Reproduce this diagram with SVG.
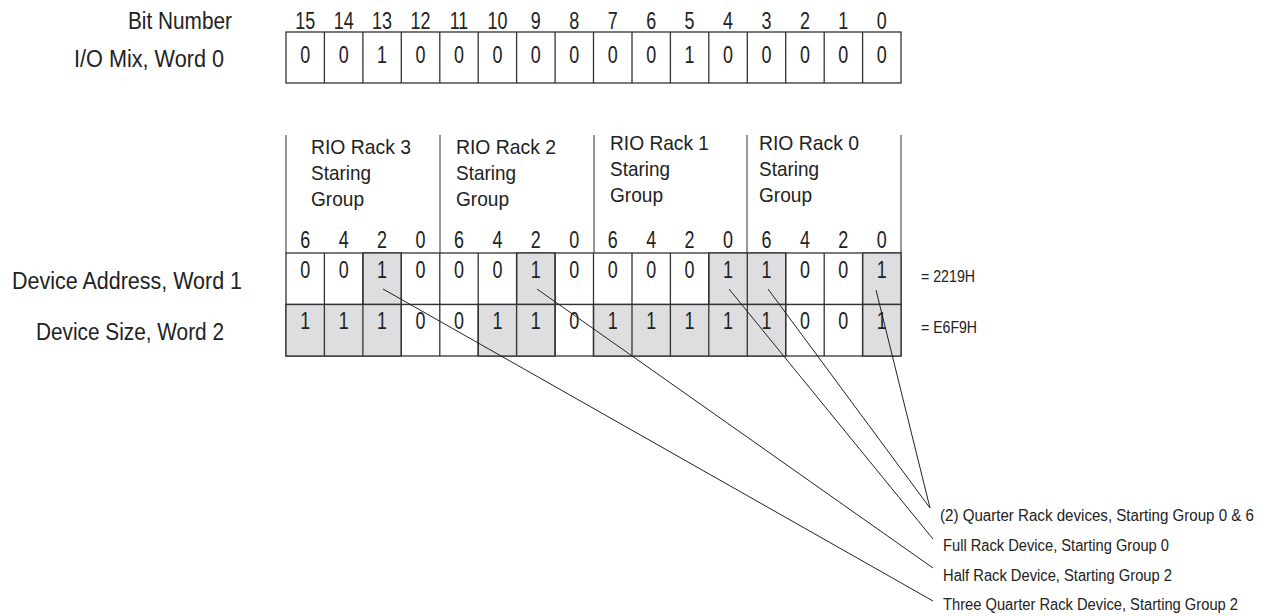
<svg xmlns="http://www.w3.org/2000/svg" width="1274" height="616" viewBox="0 0 1274 616">
<style>
text{font-family:"Liberation Sans",Arial,sans-serif;fill:#222}
.lbl{font-size:23px}
.num{font-size:23px;text-anchor:middle}
.rack{font-size:21px}
.sm{font-size:16px}
.cell{fill:#fff;stroke:#333;stroke-width:1.3}
.sh{fill:#dedee0;stroke:#333;stroke-width:1.3}
.div{stroke:#777;stroke-width:1.5}
.conn{stroke:#222;stroke-width:1;fill:none}
</style>
<rect width="1274" height="616" fill="#fff"/>
<g id="labels">
<text class="lbl" x="128" y="29" textLength="104" lengthAdjust="spacingAndGlyphs">Bit Number</text>
<text class="lbl" x="74" y="67" textLength="150" lengthAdjust="spacingAndGlyphs">I/O Mix, Word 0</text>
<text class="lbl" x="12" y="289" textLength="230" lengthAdjust="spacingAndGlyphs">Device Address, Word 1</text>
<text class="lbl" x="36" y="340" textLength="188" lengthAdjust="spacingAndGlyphs">Device Size, Word 2</text>
<text class="sm" x="921" y="282" textLength="54" lengthAdjust="spacingAndGlyphs">= 2219H</text>
<text class="sm" x="921" y="333" textLength="56" lengthAdjust="spacingAndGlyphs">= E6F9H</text>
</g>
<g id="word0">
<g class="num" transform="scale(0.78 1)">
<text x="391.31" y="29">15</text><text x="440.59" y="29">14</text><text x="489.86" y="29">13</text><text x="539.14" y="29">12</text>
<text x="588.42" y="29">11</text><text x="637.71" y="29">10</text><text x="686.97" y="29">9</text><text x="736.26" y="29">8</text>
<text x="785.54" y="29">7</text><text x="834.82" y="29">6</text><text x="884.09" y="29">5</text><text x="933.37" y="29">4</text>
<text x="982.65" y="29">3</text><text x="1031.94" y="29">2</text><text x="1081.21" y="29">1</text><text x="1130.49" y="29">0</text>
</g>
<rect class="cell" x="286" y="32" width="615" height="51"/>
<path class="cell" d="M324.4 32V83M362.9 32V83M401.3 32V83M439.8 32V83M478.2 32V83M516.6 32V83M555.1 32V83M593.5 32V83M632 32V83M670.4 32V83M708.8 32V83M747.3 32V83M785.7 32V83M824.2 32V83M862.6 32V83"/>
<g class="num" transform="scale(0.78 1)">
<text x="391.31" y="63.5">0</text><text x="440.59" y="63.5">0</text><text x="489.86" y="63.5">1</text><text x="539.14" y="63.5">0</text>
<text x="588.42" y="63.5">0</text><text x="637.71" y="63.5">0</text><text x="686.97" y="63.5">0</text><text x="736.26" y="63.5">0</text>
<text x="785.54" y="63.5">0</text><text x="834.82" y="63.5">0</text><text x="884.09" y="63.5">1</text><text x="933.37" y="63.5">0</text>
<text x="982.65" y="63.5">0</text><text x="1031.94" y="63.5">0</text><text x="1081.21" y="63.5">0</text><text x="1130.49" y="63.5">0</text>
</g>
</g>
<g id="racks">
<path class="div" d="M286 135V253M440 135V253M594 135V253M747 135V253M901 135V253"/>
<text class="rack" x="311" y="153.5" textLength="100" lengthAdjust="spacingAndGlyphs">RIO Rack 3</text><text class="rack" x="311" y="180" textLength="60" lengthAdjust="spacingAndGlyphs">Staring</text><text class="rack" x="311" y="206" textLength="53" lengthAdjust="spacingAndGlyphs">Group</text>
<text class="rack" x="456" y="153.5" textLength="100" lengthAdjust="spacingAndGlyphs">RIO Rack 2</text><text class="rack" x="456" y="180" textLength="60" lengthAdjust="spacingAndGlyphs">Staring</text><text class="rack" x="456" y="206" textLength="53" lengthAdjust="spacingAndGlyphs">Group</text>
<text class="rack" x="610" y="149.5" textLength="99" lengthAdjust="spacingAndGlyphs">RIO Rack 1</text><text class="rack" x="610" y="176" textLength="60" lengthAdjust="spacingAndGlyphs">Staring</text><text class="rack" x="610" y="202" textLength="53" lengthAdjust="spacingAndGlyphs">Group</text>
<text class="rack" x="759" y="149.5" textLength="100" lengthAdjust="spacingAndGlyphs">RIO Rack 0</text><text class="rack" x="759" y="176" textLength="60" lengthAdjust="spacingAndGlyphs">Staring</text><text class="rack" x="759" y="202" textLength="53" lengthAdjust="spacingAndGlyphs">Group</text>
<g class="num" transform="scale(0.78 1)">
<text x="391.31" y="248">6</text><text x="440.59" y="248">4</text><text x="489.86" y="248">2</text><text x="539.14" y="248">0</text>
<text x="588.42" y="248">6</text><text x="637.71" y="248">4</text><text x="686.97" y="248">2</text><text x="736.26" y="248">0</text>
<text x="785.54" y="248">6</text><text x="834.82" y="248">4</text><text x="884.09" y="248">2</text><text x="933.37" y="248">0</text>
<text x="982.65" y="248">6</text><text x="1031.94" y="248">4</text><text x="1081.21" y="248">2</text><text x="1130.49" y="248">0</text>
</g>
</g>
<g id="word1">
<rect class="cell" x="286" y="253" width="615" height="51.5"/>
<rect class="sh" x="362.9" y="253" width="38.4" height="51.5"/>
<rect class="sh" x="516.6" y="253" width="38.5" height="51.5"/>
<rect class="sh" x="708.8" y="253" width="76.9" height="51.5"/>
<rect class="sh" x="862.6" y="253" width="38.4" height="51.5"/>
<path class="cell" d="M324.4 253V304.5M362.9 253V304.5M401.3 253V304.5M439.8 253V304.5M478.2 253V304.5M516.6 253V304.5M555.1 253V304.5M593.5 253V304.5M632 253V304.5M670.4 253V304.5M708.8 253V304.5M747.3 253V304.5M785.7 253V304.5M824.2 253V304.5M862.6 253V304.5"/>
<g class="num" transform="scale(0.78 1)">
<text x="391.31" y="278.5">0</text><text x="440.59" y="278.5">0</text><text x="489.86" y="278.5">1</text><text x="539.14" y="278.5">0</text>
<text x="588.42" y="278.5">0</text><text x="637.71" y="278.5">0</text><text x="686.97" y="278.5">1</text><text x="736.26" y="278.5">0</text>
<text x="785.54" y="278.5">0</text><text x="834.82" y="278.5">0</text><text x="884.09" y="278.5">0</text><text x="933.37" y="278.5">1</text>
<text x="982.65" y="278.5">1</text><text x="1031.94" y="278.5">0</text><text x="1081.21" y="278.5">0</text><text x="1130.49" y="278.5">1</text>
</g>
</g>
<g id="word2">
<rect class="cell" x="286" y="304.5" width="615" height="51.5"/>
<rect class="sh" x="286" y="304.5" width="115.3" height="51.5"/>
<rect class="sh" x="478.2" y="304.5" width="76.9" height="51.5"/>
<rect class="sh" x="593.5" y="304.5" width="192.2" height="51.5"/>
<rect class="sh" x="862.6" y="304.5" width="38.4" height="51.5"/>
<path class="cell" d="M324.4 304.5V356M362.9 304.5V356M401.3 304.5V356M439.8 304.5V356M478.2 304.5V356M516.6 304.5V356M555.1 304.5V356M593.5 304.5V356M632 304.5V356M670.4 304.5V356M708.8 304.5V356M747.3 304.5V356M785.7 304.5V356M824.2 304.5V356M862.6 304.5V356"/>
<g class="num" transform="scale(0.78 1)">
<text x="391.31" y="329.5">1</text><text x="440.59" y="329.5">1</text><text x="489.86" y="329.5">1</text><text x="539.14" y="329.5">0</text>
<text x="588.42" y="329.5">0</text><text x="637.71" y="329.5">1</text><text x="686.97" y="329.5">1</text><text x="736.26" y="329.5">0</text>
<text x="785.54" y="329.5">1</text><text x="834.82" y="329.5">1</text><text x="884.09" y="329.5">1</text><text x="933.37" y="329.5">1</text>
<text x="982.65" y="329.5">1</text><text x="1031.94" y="329.5">0</text><text x="1081.21" y="329.5">0</text><text x="1130.49" y="329.5">1</text>
</g>
</g>
<g id="connectors">
<line class="conn" x1="383" y1="289" x2="933" y2="601"/>
<line class="conn" x1="537" y1="289" x2="933" y2="568"/>
<line class="conn" x1="729" y1="289" x2="933" y2="539"/>
<line class="conn" x1="768" y1="289" x2="930" y2="508"/>
<line class="conn" x1="876" y1="290" x2="930" y2="508"/>
</g>
<g id="notes">
<text class="sm" x="940" y="521" textLength="314" lengthAdjust="spacingAndGlyphs">(2) Quarter Rack devices, Starting Group 0 &amp; 6</text>
<text class="sm" x="943" y="551" textLength="226" lengthAdjust="spacingAndGlyphs">Full Rack Device, Starting Group 0</text>
<text class="sm" x="943" y="581" textLength="229" lengthAdjust="spacingAndGlyphs">Half Rack Device, Starting Group 2</text>
<text class="sm" x="943" y="610" textLength="295" lengthAdjust="spacingAndGlyphs">Three Quarter Rack Device, Starting Group 2</text>
</g>
</svg>
